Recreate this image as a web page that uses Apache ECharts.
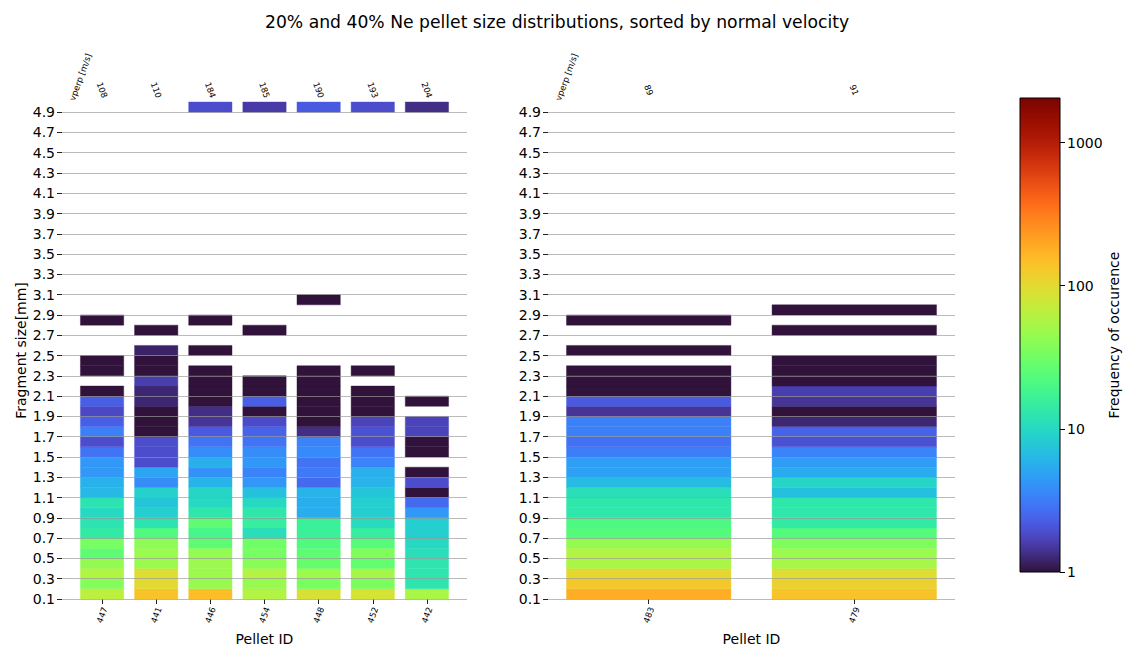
<!DOCTYPE html>
<html>
<head>
<meta charset="utf-8">
<script src="https://cdn.jsdelivr.net/npm/echarts@6/dist/echarts.min.js"></script>
<style>html,body{margin:0;padding:0;background:#fff}#chart{width:1125px;height:648px}</style>
</head>
<body>
<div id="chart"></div>
<script>
// ---------------- data ----------------
const binStart = 0.1;   // lower edge of first size bin [mm]
const binWidth = 0.1;   // size bin width [mm]
const yTicks = [0.1,0.3,0.5,0.7,0.9,1.1,1.3,1.5,1.7,1.9,2.1,2.3,2.5,2.7,2.9,3.1,3.3,3.5,3.7,3.9,4.1,4.3,4.5,4.7,4.9];

const leftPellets = ['447','441','446','454','448','452','442'];
const leftVperp   = ['108','110','184','185','190','193','204'];
const rightPellets = ['483','479'];
const rightVperp   = ['89','91'];

// frequency of occurrence per size bin (index 0 = 0.1-0.2 mm, ..., index 48 = 4.9-5.0 mm), 0 = empty
const freq447 = [66,38,58,45,26,33,14,12,10,12,6.3,5.8,4.3,4.3,2.9,1.9,3.3,2.3,1.8,2.3,1,0,1,1,0,0,0,1];
const freq441 = [140,100,95,48,47,42,22,12,8.5,7.5,9,3.8,5,1.9,1.9,1.9,1,1,1,1.25,1.25,1.6,1,1,1.2,0,1];
const freq446 = [150,46,48,48,44,26,19,26,13,10,9.5,6,4,5.7,3.8,2.9,2.2,1.45,1.35,1,1,1,1,0,1,0,0,1,
                 0,0,0,0,0,0,0,0,0,0,0,0,0,0,0,0,0,0,0,0,1.9];
const freq454 = [60,46,60,40,33,31,11,15,13,10,7,4.3,3.4,4.3,3.8,2.9,2.4,1.85,1,2.3,1,1,0,0,0,0,1,
                 0,0,0,0,0,0,0,0,0,0,0,0,0,0,0,0,0,0,0,0,0,1.55];
const freq448 = [88,34,48,28,26,22,16,16,5.5,5.5,6,2.6,3.1,2.9,3.7,3.4,1.35,1,1,1,1,1,1,0,0,0,0,0,0,1,
                 0,0,0,0,0,0,0,0,0,0,0,0,0,0,0,0,0,0,2.2];
const freq452 = [86,35,52,27,37,24,15,10.5,8.5,8.5,7.5,6,5.7,3.4,2.9,1.9,2,1.7,1,1,1,0,1,
                 0,0,0,0,0,0,0,0,0,0,0,0,0,0,0,0,0,0,0,0,0,0,0,0,0,1.9];
const freq442 = [55,12.5,12.5,12.5,11,10,8.5,8.5,4.3,2.6,1,1.9,1,0,1,1,1.7,1.7,0,1,
                 0,0,0,0,0,0,0,0,0,0,0,0,0,0,0,0,0,0,0,0,0,0,0,0,0,0,0,0,1.35];
const freq483 = [185,130,105,55,60,45,23,21,13,13,11,6.7,4.8,4.6,3.2,2.8,3.3,3.3,1.45,2.2,1,1,1,0,1,0,0,1];
const freq479 = [140,115,95,53,47,36,23,14,13,13,7,9.5,5.3,4.5,3.4,2,2.4,1.25,1,1.45,1.6,1,1,1,0,0,1,0,1];

const leftFreqs  = [freq447, freq441, freq446, freq454, freq448, freq452, freq442];
const rightFreqs = [freq483, freq479];

const cbTicks = [1, 10, 100, 1000];
const cbMin = 1;
const cbMax = 2050;

// ---------------- colormap (turbo) ----------------
function turbo(t) {
  t = Math.max(0, Math.min(1, t));
  const poly = s => [
    0.13572138 + s*(4.61539260 + s*(-42.66032258 + s*(132.13108234 + s*(-152.94239396 + s*59.28637943)))),
    0.09140261 + s*(2.19418839 + s*(4.84296658 + s*(-14.18503333 + s*(4.27729857 + s*2.82956604)))),
    0.10667330 + s*(12.64194608 + s*(-60.58204836 + s*(110.36276771 + s*(-89.90310912 + s*27.34824973))))
  ];
  let c;
  if (t < 0.05) {
    const a = poly(0.05), e = [0.18995, 0.07176, 0.23217], f = t / 0.05;
    c = e.map((v, i) => v + (a[i] - v) * f);
  } else if (t > 0.95) {
    const a = poly(0.95), e = [0.4796, 0.01583, 0.01055], f = (t - 0.95) / 0.05;
    c = a.map((v, i) => v + (e[i] - v) * f);
  } else c = poly(t);
  return 'rgb(' + c.map(v => Math.round(255 * Math.max(0, Math.min(1, v)))).join(',') + ')';
}
const logMin = Math.log10(cbMin), logMax = Math.log10(cbMax);
const colorOf = v => turbo((Math.log10(v) - logMin) / (logMax - logMin));

function buildCells(freqs) {
  const out = [];
  freqs.forEach((arr, i) => {
    arr.forEach((v, k) => {
      if (v > 0) out.push([i, Math.round((binStart + k * binWidth) * 10) / 10, v]);
    });
  });
  return out;
}

function cellRender(params, api) {
  const x = api.value(0), y0 = api.value(1), v = api.value(2);
  const p0 = api.coord([x - 0.4, y0]);
  const p1 = api.coord([x + 0.4, y0 + binWidth]);
  const col = colorOf(v);
  return {
    type: 'rect',
    shape: { x: p0[0], y: p1[1], width: p1[0] - p0[0], height: p0[1] - p1[1] },
    style: { fill: col, stroke: col, lineWidth: 0.4 }
  };
}

// ---------------- chart ----------------
const FONT = 'DejaVu Sans';
const TXT = '#000';
const gridLine = { show: true, lineStyle: { color: 'rgba(150,150,150,0.65)', width: 1 } };
const leftIdx = leftPellets.map((_, i) => i);
const rightIdx = rightPellets.map((_, i) => i);
const leftRange = [-0.4 - 0.05 * (leftPellets.length - 0.2), leftPellets.length - 0.6 + 0.05 * (leftPellets.length - 0.2)];
const rightRange = [-0.4 - 0.05 * (rightPellets.length - 0.2), rightPellets.length - 0.6 + 0.05 * (rightPellets.length - 0.2)];

function sizeAxis(gridIndex, withName) {
  return {
    gridIndex, type: 'value', min: 0.1, max: 5.0, z: 5, position: 'left',
    axisLine: { show: false, onZero: false },
    axisTick: { show: true, customValues: yTicks, length: 5, lineStyle: { color: '#222', width: 1 } },
    axisLabel: { customValues: yTicks, formatter: v => v.toFixed(1), fontSize: 14, color: TXT, margin: 7, fontFamily: FONT },
    splitLine: gridLine,
    name: withName ? 'Fragment size[mm]' : '',
    nameLocation: 'middle', nameGap: 34,
    nameTextStyle: { fontSize: 14, color: TXT, fontFamily: FONT }
  };
}
function idAxis(gridIndex, range, idx, labels) {
  return {
    gridIndex, type: 'value', min: range[0], max: range[1], position: 'bottom',
    axisLine: { show: false, onZero: false }, splitLine: { show: false },
    axisTick: { show: true, customValues: idx, length: 5, lineStyle: { color: '#222', width: 1 } },
    axisLabel: { customValues: idx, formatter: v => labels[Math.round(v)], rotate: 70, align: 'center', verticalAlign: 'middle',
                 margin: 16, fontSize: 8.5, color: TXT, fontFamily: FONT },
    name: 'Pellet ID', nameLocation: 'middle', nameGap: 25,
    nameTextStyle: { fontSize: 14, color: TXT, fontFamily: FONT }
  };
}
function vperpAxis(gridIndex, range, idx, labels) {
  return {
    gridIndex, type: 'value', min: range[0], max: range[1], position: 'top',
    axisLine: { show: false, onZero: false }, splitLine: { show: false }, axisTick: { show: false },
    axisLabel: { customValues: idx, formatter: v => labels[Math.round(v)], rotate: 70, align: 'center', verticalAlign: 'middle',
                 margin: 12, fontSize: 8.5, color: TXT, fontFamily: FONT }
  };
}
function vperpNameAxis(gridIndex, range) {
  return {
    gridIndex, type: 'value', min: range[0], max: range[1], position: 'top',
    axisLine: { show: false, onZero: false }, splitLine: { show: false }, axisTick: { show: false },
    axisLabel: { customValues: [-0.4], formatter: () => 'vperp [m/s]', rotate: -70, align: 'center', verticalAlign: 'middle',
                 margin: 25, fontSize: 8.5, color: TXT, fontFamily: FONT }
  };
}
const hiddenY = g => ({ gridIndex: g, type: 'value', min: 0, max: 1, show: false, axisLine: { show: false, onZero: false } });

const cbLogTicks = cbTicks.map(v => Math.log10(v));

const option = {
  animation: false,
  backgroundColor: '#fff',
  textStyle: { fontFamily: FONT },
  title: {
    text: '20% and 40% Ne pellet size distributions, sorted by normal velocity',
    left: 260, top: 8,
    textStyle: { fontFamily: FONT, fontSize: 17.2, fontWeight: 'normal', color: TXT }
  },
  grid: [
    { left: 62, width: 405, top: 102, height: 497, outerBoundsMode: 'none' },
    { left: 548, width: 407, top: 102, height: 497, outerBoundsMode: 'none' },
    { left: 1020, width: 40, top: 98, height: 474, outerBoundsMode: 'none' },
    { left: 62, width: 405, top: 102, height: 497, outerBoundsMode: 'none' },
    { left: 548, width: 407, top: 102, height: 497, outerBoundsMode: 'none' }
  ],
  xAxis: [
    idAxis(0, leftRange, leftIdx, leftPellets),
    vperpAxis(0, leftRange, leftIdx, leftVperp),
    idAxis(1, rightRange, rightIdx, rightPellets),
    vperpAxis(1, rightRange, rightIdx, rightVperp),
    { gridIndex: 2, type: 'value', min: 0, max: 1, show: false, axisLine: { show: false, onZero: false } },
    vperpNameAxis(3, leftRange),
    vperpNameAxis(4, rightRange)
  ],
  yAxis: [
    sizeAxis(0, true),
    sizeAxis(1, false),
    {
      gridIndex: 2, type: 'value', min: logMin, max: logMax, position: 'right',
      axisLine: { show: false, onZero: false }, splitLine: { show: false },
      axisTick: { show: true, customValues: cbLogTicks, length: 5, lineStyle: { color: '#000', width: 1 } },
      axisLabel: { customValues: cbLogTicks, formatter: v => String(Math.round(Math.pow(10, v))), fontSize: 14, color: TXT, margin: 7, fontFamily: FONT },
      name: 'Frequency of occurence', nameLocation: 'middle', nameGap: 46,
      nameTextStyle: { fontSize: 14, color: TXT, fontFamily: FONT }
    },
    hiddenY(3),
    hiddenY(4)
  ],
  series: [
    { type: 'custom', xAxisIndex: 0, yAxisIndex: 0, renderItem: cellRender, data: buildCells(leftFreqs), z: 2, clip: false },
    { type: 'custom', xAxisIndex: 2, yAxisIndex: 1, renderItem: cellRender, data: buildCells(rightFreqs), z: 2, clip: false },
    {
      type: 'custom', xAxisIndex: 4, yAxisIndex: 2, z: 2,
      data: [[0, logMin, 1, logMax]],
      renderItem: (params, api) => {
        const a = api.coord([api.value(0), api.value(1)]);
        const b = api.coord([api.value(2), api.value(3)]);
        const stops = [];
        for (let i = 0; i <= 60; i++) stops.push({ offset: i / 60, color: turbo(i / 60) });
        return {
          type: 'rect',
          shape: { x: a[0], y: b[1], width: b[0] - a[0], height: a[1] - b[1] },
          style: { fill: new echarts.graphic.LinearGradient(0, 1, 0, 0, stops), stroke: '#000', lineWidth: 1 }
        };
      }
    }
  ]
};

const chart = echarts.init(document.getElementById('chart'), null, { renderer: 'svg', width: 1125, height: 648 });
chart.setOption(option);
</script>
</body>
</html>
